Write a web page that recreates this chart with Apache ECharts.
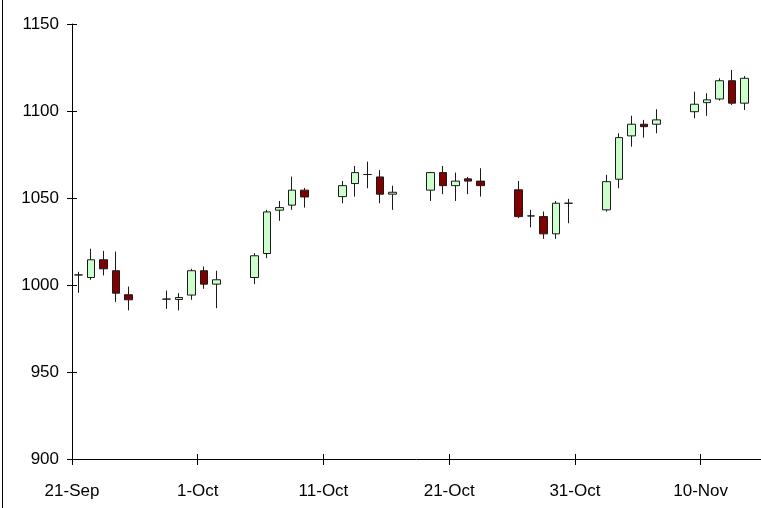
<!DOCTYPE html>
<html>
<head>
<meta charset="utf-8">
<script src="https://cdn.jsdelivr.net/npm/echarts@6/dist/echarts.min.js"></script>
<style>
html,body{margin:0;padding:0;background:#fff;}
#c{width:761px;height:508px;}
</style>
</head>
<body>
<div id="c"></div>
<script>
// ---- data ----
const dates = ['2009-09-21','2009-09-22','2009-09-23','2009-09-24','2009-09-25',
  '2009-09-28','2009-09-29','2009-09-30','2009-10-01','2009-10-02',
  '2009-10-05','2009-10-06','2009-10-07','2009-10-08','2009-10-09',
  '2009-10-12','2009-10-13','2009-10-14','2009-10-15','2009-10-16',
  '2009-10-19','2009-10-20','2009-10-21','2009-10-22','2009-10-23',
  '2009-10-26','2009-10-27','2009-10-28','2009-10-29','2009-10-30',
  '2009-11-02','2009-11-03','2009-11-04','2009-11-05','2009-11-06',
  '2009-11-09','2009-11-10','2009-11-11','2009-11-12','2009-11-13'];
const opens  = [1005.8,1004.3,1014.5,1008.2,994.4, 991.9,991.7,994.2,1008.2,1000.5,
  1004.3,1018.1,1043.0,1045.9,1054.5, 1050.8,1058.3,1063.5,1062.1,1052.2,
  1054.5,1064.6,1057.1,1061.0,1059.7, 1054.7,1039.7,1039.3,1029.4,1047.0,
  1043.2,1060.8,1085.7,1092.4,1092.4, 1099.6,1104.8,1106.9,1117.4,1104.5];
const closes = [1005.8,1014.5,1009.3,995.3,991.5, 991.9,992.8,1008.2,1000.5,1003.0,
  1016.8,1042.0,1044.5,1054.5,1050.6, 1057.1,1064.6,1063.5,1052.2,1053.3,
  1064.6,1057.1,1059.7,1059.7,1057.1, 1039.3,1039.7,1029.4,1047.0,1047.0,
  1059.4,1084.7,1092.4,1091.0,1094.9, 1103.9,1106.4,1117.4,1104.5,1118.8];
const lows   = [995.5,1003.0,1005.5,990.3,985.4, 986.3,985.4,991.5,997.8,986.7,
  1000.5,1015.4,1036.9,1043.2,1044.5, 1047.0,1050.8,1055.6,1047.0,1043.2,
  1048.3,1052.2,1048.3,1052.2,1050.8, 1038.4,1033.2,1026.5,1026.5,1035.5,
  1042.2,1055.6,1079.5,1084.7,1087.2, 1095.8,1097.2,1106.0,1103.5,1100.6];
const highs  = [1007.6,1020.8,1019.6,1019.2,999.1, 996.8,995.3,1009.3,1010.6,1008.2,
  1018.3,1043.2,1048.3,1062.3,1055.8, 1059.8,1068.4,1070.9,1066.0,1057.1,
  1065.0,1068.4,1064.6,1062.1,1067.1, 1059.8,1043.2,1042.2,1048.3,1049.5,
  1063.3,1087.2,1097.3,1094.9,1101.0, 1111.1,1110.2,1118.8,1123.6,1120.1];
const yTicks = [900, 950, 1000, 1050, 1100, 1150];
const xTickLabels = ['21-Sep','1-Oct','11-Oct','21-Oct','31-Oct','10-Nov'];

// ---- build ----
const DAY = 86400000;
const base = Date.UTC(2009, 8, 21);
function dayNum(s){ const p = s.split('-').map(Number); return (Date.UTC(p[0], p[1]-1, p[2]) - base) / DAY; }
const candleData = dates.map((d, i) => [dayNum(d) + 0.5, opens[i], closes[i], lows[i], highs[i]]);

const FONT = '"Liberation Sans Narrow", "Arial Narrow", "Liberation Sans", Arial, sans-serif';
const chart = echarts.init(document.getElementById('c'), null, {renderer: 'canvas'});
const xCommon = {type: 'value', min: 0, max: 54.8, interval: 10, gridIndex: 0};
const yCommon = {type: 'value', min: yTicks[0], max: yTicks[yTicks.length-1], interval: 50, gridIndex: 0};
chart.setOption({
  animation: false,
  backgroundColor: '#fff',
  grid: {left: 72, right: 0, top: 24, bottom: 49, containLabel: false},
  xAxis: [
    Object.assign({}, xCommon, {
      position: 'bottom',
      axisLine: {show: true, onZero: false, lineStyle: {color: '#000', width: 1}},
      axisTick: {show: true, inside: false, length: 6, lineStyle: {color: '#000'}},
      splitLine: {show: false},
      axisLabel: {show: true, margin: 24, fontFamily: FONT, fontSize: 17, color: '#000',
        showMaxLabel: false,
        formatter: v => { const k = Math.round(v / 10); return (Math.abs(v - k*10) < 1e-6 && xTickLabels[k]) ? xTickLabels[k] : ''; }}
    }),
    Object.assign({}, xCommon, {
      position: 'bottom',
      axisLine: {show: false, onZero: false},
      axisTick: {show: true, inside: true, length: 5, lineStyle: {color: '#000'}},
      splitLine: {show: false},
      axisLabel: {show: false}
    })
  ],
  yAxis: [
    Object.assign({}, yCommon, {
      position: 'left',
      axisLine: {show: true, onZero: false, lineStyle: {color: '#000', width: 1}},
      axisTick: {show: true, inside: false, length: 5, lineStyle: {color: '#000'}},
      splitLine: {show: false},
      axisLabel: {show: true, margin: 13, fontFamily: FONT, fontSize: 17, color: '#000',
        formatter: v => String(v)}
    }),
    Object.assign({}, yCommon, {
      position: 'left',
      axisLine: {show: false, onZero: false},
      axisTick: {show: true, inside: true, length: 5, lineStyle: {color: '#000'}},
      splitLine: {show: false},
      axisLabel: {show: false}
    })
  ],
  graphic: [{
    type: 'line', silent: true,
    shape: {x1: 2.5, y1: 0, x2: 2.5, y2: 508},
    style: {stroke: '#000', lineWidth: 1}
  }],
  series: [{
    type: 'candlestick',
    xAxisIndex: 0, yAxisIndex: 0,
    encode: {x: 0, y: [1, 2, 3, 4]},
    data: candleData,
    barWidth: 8,
    itemStyle: {
      color: '#ccffcc', color0: '#800000',
      borderColor: '#1a1a1a', borderColor0: '#1a1a1a', borderColorDoji: '#1a1a1a',
      borderWidth: 1
    }
  }]
});
</script>
</body>
</html>
